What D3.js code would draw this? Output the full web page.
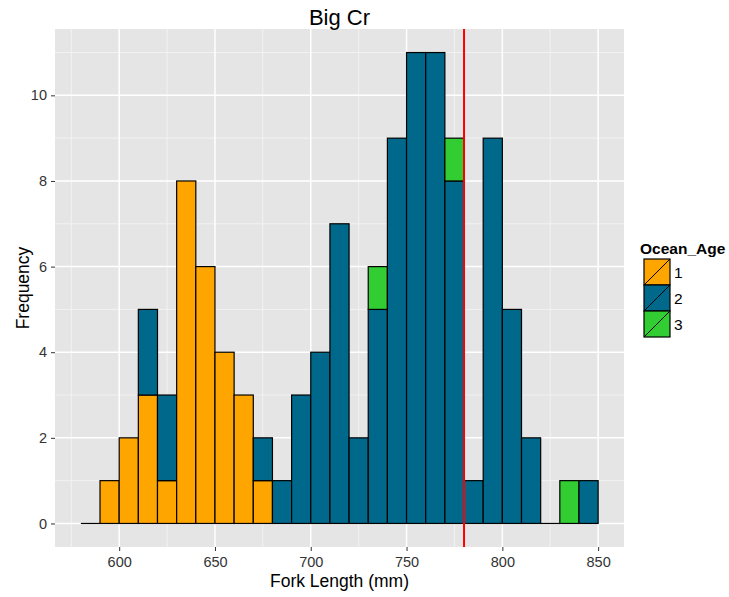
<!DOCTYPE html>
<html>
<head>
<meta charset="utf-8">
<script src="https://cdn.jsdelivr.net/npm/d3@7"></script>
<style>
  body { margin: 0; background: #fff; }
  text { font-family: "Liberation Sans", Arial, sans-serif; }
</style>
</head>
<body>
<svg id="chart" width="729" height="597"></svg>
<script>
// histogram bins (left edges, width 10 mm)
const binStarts = [580, 590, 600, 610, 620, 630, 640, 650, 660, 670, 680, 690, 700, 710,
    720, 730, 740, 750, 760, 770, 780, 790, 800, 810, 820, 830, 840];
const binWidth = 10;
const age1 = [0, 1, 2, 3, 1, 8, 6, 4, 3, 1, 0, 0, 0, 0, 0, 0, 0, 0, 0, 0, 0, 0, 0, 0, 0, 0, 0];
const age2 = [0, 0, 0, 2, 2, 0, 0, 0, 0, 1, 1, 3, 4, 7, 2, 5, 9, 11, 11, 8, 1, 9, 5, 2, 0, 0, 1];
const age3 = [0, 0, 0, 0, 0, 0, 0, 0, 0, 0, 0, 0, 0, 0, 0, 1, 0, 0, 0, 1, 0, 0, 0, 0, 0, 1, 0];
const ages = ["1", "2", "3"];
const colors = ["#FFA500", "#00688B", "#32CD32"];
const xTicks = [600, 650, 700, 750, 800, 850];
const yTicks = [0, 2, 4, 6, 8, 10];
const cutoff = 780;

const svg = d3.select("svg#chart");
const panel = {left: 55, right: 624, top: 29, bottom: 547};

const x = d3.scaleLinear().domain([566.5, 863.5]).range([panel.left, panel.right]);
const y = d3.scaleLinear().domain([-0.55, 11.55]).range([panel.bottom, panel.top]);

// panel background
svg.append("rect")
    .attr("x", panel.left).attr("y", panel.top)
    .attr("width", panel.right - panel.left).attr("height", panel.bottom - panel.top)
    .attr("fill", "#E5E5E5");

const grid = svg.append("g").attr("class", "grid");
// minor gridlines
const xMinor = xTicks.map(t => t - 25).concat([875]).filter(t => t > 566.5 && t < 863.5);
const yMinor = [1, 3, 5, 7, 9, 11];
grid.selectAll("line.xminor").data(xMinor).enter().append("line")
    .attr("x1", d => x(d)).attr("x2", d => x(d))
    .attr("y1", panel.top).attr("y2", panel.bottom)
    .attr("stroke", "#F2F2F2").attr("stroke-width", 1);
grid.selectAll("line.yminor").data(yMinor).enter().append("line")
    .attr("x1", panel.left).attr("x2", panel.right)
    .attr("y1", d => y(d)).attr("y2", d => y(d))
    .attr("stroke", "#F2F2F2").attr("stroke-width", 1);
// major gridlines
grid.selectAll("line.xmajor").data(xTicks).enter().append("line")
    .attr("x1", d => x(d)).attr("x2", d => x(d))
    .attr("y1", panel.top).attr("y2", panel.bottom)
    .attr("stroke", "#fff").attr("stroke-width", 1.5);
grid.selectAll("line.ymajor").data(yTicks).enter().append("line")
    .attr("x1", panel.left).attr("x2", panel.right)
    .attr("y1", d => y(d)).attr("y2", d => y(d))
    .attr("stroke", "#fff").attr("stroke-width", 1.5);

// stacked bars: age 1 at bottom, then 2, then 3
const series = [age1, age2, age3];
const segments = [];
const emptyBins = [];
binStarts.forEach((b, i) => {
    let base = 0;
    const total = age1[i] + age2[i] + age3[i];
    if (total === 0) {
        emptyBins.push(b);
        return;
    }
    series.forEach((s, k) => {
        if (s[i] > 0) {
            segments.push({x0: b, y0: base, y1: base + s[i], k: k});
            base += s[i];
        }
    });
});

const bars = svg.append("g").attr("class", "bars");
// empty bins show only the outline at zero
bars.selectAll("line.empty").data(emptyBins).enter().append("line")
    .attr("class", "empty")
    .attr("x1", d => x(d)).attr("x2", d => x(d + binWidth))
    .attr("y1", y(0)).attr("y2", y(0))
    .attr("stroke", "#000").attr("stroke-width", 1.2);
bars.selectAll("rect").data(segments).enter().append("rect")
    .attr("x", d => x(d.x0))
    .attr("width", d => x(d.x0 + binWidth) - x(d.x0))
    .attr("y", d => y(d.y1))
    .attr("height", d => y(d.y0) - y(d.y1))
    .attr("fill", d => colors[d.k])
    .attr("stroke", "#000")
    .attr("stroke-width", 1.2);

// cutoff line
svg.append("line")
    .attr("x1", x(cutoff)).attr("x2", x(cutoff))
    .attr("y1", panel.top).attr("y2", panel.bottom)
    .attr("stroke", "#FF0000").attr("stroke-width", 2);

// axes
const xAxis = svg.append("g").attr("transform", `translate(0,${panel.bottom})`)
    .call(d3.axisBottom(x).tickValues(xTicks).tickSize(4).tickPadding(6));
const yAxis = svg.append("g").attr("transform", `translate(${panel.left},0)`)
    .call(d3.axisLeft(y).tickValues(yTicks).tickSize(4).tickPadding(4));
[xAxis, yAxis].forEach(a => {
    a.select(".domain").remove();
    a.selectAll(".tick line").attr("stroke", "#333");
    a.selectAll(".tick text")
        .attr("fill", "#333")
        .attr("font-size", 14.5)
        .style("font-family", "'Liberation Sans', Arial, sans-serif");
});

// title and axis labels
svg.append("text")
    .attr("x", (panel.left + panel.right) / 2).attr("y", 25)
    .attr("text-anchor", "middle").attr("font-size", 22)
    .text("Big Cr");
svg.append("text")
    .attr("x", (panel.left + panel.right) / 2).attr("y", 587)
    .attr("text-anchor", "middle").attr("font-size", 17.5)
    .text("Fork Length (mm)");
svg.append("text")
    .attr("transform", `translate(29,${(panel.top + panel.bottom) / 2}) rotate(-90)`)
    .attr("text-anchor", "middle").attr("font-size", 17.5)
    .text("Frequency");

// legend
const legend = svg.append("g").attr("transform", "translate(640,0)");
legend.append("text")
    .attr("x", 0).attr("y", 254)
    .attr("font-size", 15.5).attr("font-weight", "bold")
    .text("Ocean_Age");
const keySize = 26;
const keys = legend.selectAll("g.key").data(ages).enter().append("g")
    .attr("class", "key")
    .attr("transform", (d, i) => `translate(4,${259 + i * keySize})`);
keys.append("rect")
    .attr("width", keySize).attr("height", keySize)
    .attr("fill", (d, i) => colors[i])
    .attr("stroke", "#000").attr("stroke-width", 1.2);
keys.append("line")
    .attr("x1", 0).attr("y1", keySize).attr("x2", keySize).attr("y2", 0)
    .attr("stroke", "#000").attr("stroke-width", 1);
keys.append("text")
    .attr("x", keySize + 4).attr("y", keySize / 2 + 5.5)
    .attr("font-size", 15.5)
    .text(d => d);
</script>
</body>
</html>
